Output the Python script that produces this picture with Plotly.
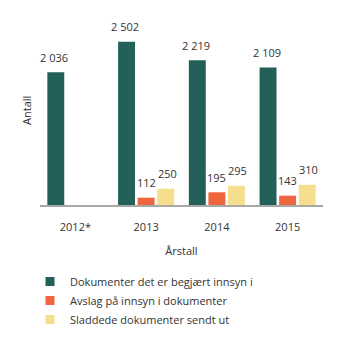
import plotly.graph_objects as go

years = ["2012*", "2013", "2014", "2015"]
requested = [2036, 2502, 2219, 2109]
refused = [None, 112, 195, 143]
redacted = [None, 250, 295, 310]
names = ["Dokumenter det er begjært innsyn i", "Avslag på innsyn i dokumenter", "Sladdede dokumenter sendt ut"]
colors = ["#23605a", "#ee653e", "#f5df8f"]

def fmt(v):
    return f"{v:,}".replace(",", " ")

fig = go.Figure()
series = [requested, refused, redacted]
offsets = [-21, 0, 21]
annotations = []
for s, name, col, off in zip(series, names, colors, offsets):
    fig.add_trace(go.Bar(x=years, y=s, name=name, showlegend=False,
                         marker=dict(color=col, line=dict(width=0))))
    fig.add_trace(go.Scatter(x=[None], y=[None], mode="markers", name=name, showlegend=True,
                             marker=dict(symbol="square", size=9, color=col)))
    for i, v in enumerate(s):
        if v is not None:
            annotations.append(dict(x=i, y=v, text=fmt(v), showarrow=False, xref="x", yref="y",
                                    xshift=off, yshift=15, yanchor="middle",
                                    font=dict(size=11, color="#333333")))

annotations.append(dict(text="Antall", x=-0.046, xref="paper", y=0.514, yref="paper",
                        showarrow=False, textangle=-90, xanchor="center", yanchor="middle",
                        font=dict(size=11, color="#333333")))

fig.update_layout(
    width=345, height=341,
    margin=dict(l=40, r=22, t=20, b=136, autoexpand=False),
    paper_bgcolor="white", plot_bgcolor="white",
    barmode="group", bargap=0.17, bargroupgap=0.136,
    font=dict(family="Open Sans, sans-serif", size=11, color="#333333"),
    annotations=annotations,
    showlegend=True,
    legend=dict(orientation="v", x=30 / 345, xref="container", y=1 - 267 / 341, yref="container",
                xanchor="left", yanchor="top",
                font=dict(size=11, color="#333333"), itemwidth=30, tracegroupgap=0,
                traceorder="normal"),
    xaxis=dict(type="category", range=[-0.5, 3.5], showline=True, linecolor="#a8a8a8", linewidth=1.5,
               ticks="", showgrid=False, ticklabelstandoff=11,
               title=dict(text="Årstall", standoff=14, font=dict(size=11)), tickfont=dict(size=11)),
    yaxis=dict(range=[0, 2837], showticklabels=False, showgrid=False, zeroline=False, showline=False),
)
fig.write_html("out.html")
